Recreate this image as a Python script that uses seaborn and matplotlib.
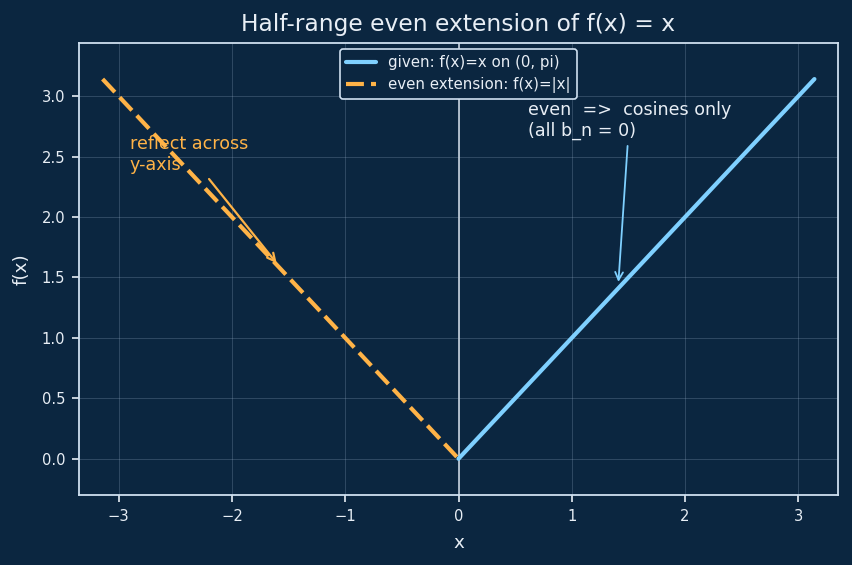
import numpy as np
import pandas as pd
import matplotlib
matplotlib.use("Agg")
import matplotlib.pyplot as plt
import seaborn as sns

# Data
given_x = [0.0, np.pi]
given_y = [0.0, np.pi]
even_x = [-np.pi, 0.0]
even_y = [np.pi, 0.0]
given_label = "given: f(x)=x on (0, pi)"
even_label = "even extension: f(x)=|x|"
title = "Half-range even extension of f(x) = x"
note_reflect = "reflect across\ny-axis"
note_even = "even  =>  cosines only\n(all b_n = 0)"

BG = "#0b2640"
FG = "#e8eef5"
SPINE = "#cfe0f0"
BLUE = "#7fd0ff"
ORANGE = "#ffb347"

sns.set_theme(style="dark")
plt.rcParams['font.family'] = ['DejaVu Sans']

fig = plt.figure(figsize=(8.52, 5.65), dpi=100, facecolor=BG)
ax = fig.add_axes([0.0927, 0.1239, 0.8909, 0.8000])
ax.set_facecolor(BG)

df_given = pd.DataFrame({"x": given_x, "y": given_y})
df_even = pd.DataFrame({"x": even_x, "y": even_y})

ax.axvline(0, color="#c8d4e0", lw=1.2, zorder=1)
sns.lineplot(data=df_given, x="x", y="y", ax=ax, color=BLUE, lw=3.0, label=given_label, zorder=3)
sns.lineplot(data=df_even, x="x", y="y", ax=ax, color=ORANGE, lw=3.0, ls="--",
             label=even_label, zorder=3)
ax.lines[-1].set_dashes((4.3, 1.7))

ax.set_xlim(-3.35, 3.35)
ax.set_ylim(-0.3, 3.44)
ax.set_xticks([-3, -2, -1, 0, 1, 2, 3])
ax.set_yticks([0.0, 0.5, 1.0, 1.5, 2.0, 2.5, 3.0])
ax.set_yticklabels([f"{v:.1f}" for v in [0.0, 0.5, 1.0, 1.5, 2.0, 2.5, 3.0]])

ax.grid(True, color="#9fb6cc", alpha=0.25, lw=0.7)
for s in ax.spines.values():
    s.set_color(SPINE)
    s.set_linewidth(1.3)
    s.set_visible(True)
ax.tick_params(colors=FG, labelsize=10.6, length=5, width=1.2, pad=5, bottom=True, left=True)
for t in ax.get_xticklabels() + ax.get_yticklabels():
    t.set_color(FG)

ax.set_title(title, color=FG, fontsize=16.8, pad=8.5)
ax.set_xlabel("x", color=FG, fontsize=13.2, labelpad=7)
ax.set_ylabel("f(x)", color=FG, fontsize=13.2, labelpad=8)

leg = ax.legend(loc="upper center", fontsize=10.8, facecolor=BG, edgecolor=SPINE, framealpha=1.0,
                borderaxespad=0.4, handlelength=2.0)
leg.get_frame().set_linewidth(1.2)
for t in leg.get_texts():
    t.set_color(FG)
leg.get_lines()[-1].set_dashes((4.3, 1.7))

ax.annotate(note_reflect, xy=(-1.59, 1.6), xytext=(-2.9, 2.52), color=ORANGE, fontsize=12.6,
            ha="left", va="center",
            arrowprops=dict(arrowstyle="->", color=ORANGE, lw=1.6, mutation_scale=14))
ax.annotate(note_even, xy=(1.41, 1.44), xytext=(0.61, 2.80), color=FG, fontsize=12.6,
            ha="left", va="center",
            arrowprops=dict(arrowstyle="->", color=BLUE, lw=1.3, mutation_scale=14))

fig.savefig("out.png", dpi=100, facecolor=BG)
